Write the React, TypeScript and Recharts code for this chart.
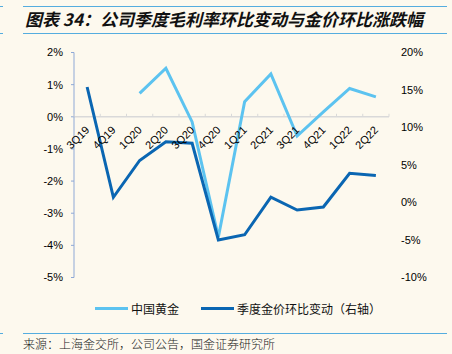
import React from 'react'
import {
  LineChart,
  Line,
  XAxis,
  YAxis,
  ReferenceLine,
} from 'recharts'

const quarters = [
  '3Q19', '4Q19', '1Q20', '2Q20', '3Q20', '4Q20',
  '1Q21', '2Q21', '3Q21', '4Q21', '1Q22', '2Q22',
]
// 中国黄金 quarterly gross margin change (left axis, %)
const marginChange = [null, null, 0.73, 1.51, -0.16, -3.74, 0.47, 1.33, -0.6, 0.15, 0.88, 0.62]
// gold price QoQ change (right axis, %)
const goldChange = [15.4, 0.7, 5.6, 8.1, 7.9, -5.0, -4.3, 0.7, -1.0, -0.6, 3.9, 3.6]

const leftTicks = [-5, -4, -3, -2, -1, 0, 1, 2]
const rightTicks = [-10, -5, 0, 5, 10, 15, 20]

const LIGHT = '#5cc3f0'
const DARK = '#0a66b2'
const BG = '#fdf9ee'
const RULE = '#55addf'

const W = 452
const H = 354
const TOP = 52.5
const BOTTOM = 76.5
const X_H = 20
const LEFT_W = 74
const RIGHT_W = 63
const PLOT_H = H - TOP - BOTTOM
const ZERO_Y = TOP + (PLOT_H * 2) / 7
const BAND = (W - LEFT_W - RIGHT_W) / quarters.length

const data = quarters.map((q, i) => ({
  q,
  margin: marginChange[i],
  gold: goldChange[i],
}))

const font = '"Liberation Sans", Arial, sans-serif'
const cjk = '"Noto Sans CJK SC", sans-serif'

function QuarterTick(props: any) {
  const {x, index} = props
  const last = index === quarters.length - 1
  return (
    <g>
      <line x1={x - BAND / 2} x2={x - BAND / 2} y1={ZERO_Y} y2={ZERO_Y - 3} stroke="#d9d9d9" />
      {last && (
        <line x1={x + BAND / 2} x2={x + BAND / 2} y1={ZERO_Y} y2={ZERO_Y - 3} stroke="#d9d9d9" />
      )}
      <text
        x={x + 3}
        y={ZERO_Y + 14}
        transform={`rotate(-45 ${x + 3} ${ZERO_Y + 14})`}
        textAnchor="end"
        fontSize={11}
        fontFamily={font}
        fill="#000"
      >
        {props.payload.value}
      </text>
    </g>
  )
}

function LegendItem({color, label}: {color: string; label: string}) {
  return (
    <span style={{display: 'inline-flex', alignItems: 'center', marginRight: 22}}>
      <span style={{display: 'inline-block', width: 33, height: 3, background: color, marginRight: 3}} />
      <span>{label}</span>
    </span>
  )
}

export default function App() {
  return (
    <div style={{position: 'absolute', left: 0, top: 0, width: W, height: H, background: BG, overflow: 'hidden'}}>
      <div style={{position: 'absolute', left: 0, top: 6, width: 3, height: 1, background: RULE}} />
      <div style={{position: 'absolute', left: 23, top: 6, width: 424, height: 1, background: RULE}} />
      <div
        style={{
          position: 'absolute',
          left: 25,
          top: 8,
          fontFamily: cjk,
          fontStyle: 'italic',
          fontWeight: 700,
          fontSize: 17,
          lineHeight: '22px',
          color: '#111',
          whiteSpace: 'nowrap',
        }}
      >
        图表 34：公司季度毛利率环比变动与金价环比涨跌幅
      </div>
      <div style={{position: 'absolute', left: 0, top: 33, width: 3, height: 1, background: RULE}} />
      <div style={{position: 'absolute', left: 23, top: 33, width: 424, height: 1, background: RULE}} />

      <div style={{position: 'absolute', left: 0, top: 0}}>
        <LineChart width={W} height={H} data={data} margin={{top: TOP, right: 0, bottom: BOTTOM - X_H, left: 0}}>
          <XAxis
            dataKey="q"
            xAxisId="cat"
            height={X_H}
            axisLine={false}
            tickLine={false}
            tick={<QuarterTick />}
            interval={0}
            padding={{left: BAND / 2, right: BAND / 2}}
          />
          <YAxis
            yAxisId="left"
            orientation="left"
            width={LEFT_W}
            domain={[-5, 2]}
            ticks={leftTicks}
            tickFormatter={(v: number) => `${v}%`}
            axisLine={{stroke: '#8fa9d6'}}
            tickLine={{stroke: '#8fa9d6'}}
            tickSize={3}
            tickMargin={8}
            tick={{fill: '#000', fontSize: 11, fontFamily: font}}
          />
          <YAxis
            yAxisId="right"
            orientation="right"
            width={RIGHT_W}
            domain={[-10, 20]}
            ticks={rightTicks}
            tickFormatter={(v: number) => `${v}%`}
            axisLine={false}
            tickLine={false}
            tickSize={0}
            tickMargin={12}
            tick={{fill: '#000', fontSize: 11, fontFamily: font}}
          />
          <ReferenceLine yAxisId="left" xAxisId="cat" y={0} stroke="#d9d9d9" strokeWidth={1.5} />
          <Line
            xAxisId="cat"
            yAxisId="left"
            dataKey="margin"
            name="中国黄金"
            stroke={LIGHT}
            strokeWidth={3}
            dot={false}
            connectNulls={false}
            isAnimationActive={false}
          />
          <Line
            xAxisId="cat"
            yAxisId="right"
            dataKey="gold"
            name="季度金价环比变动（右轴）"
            stroke={DARK}
            strokeWidth={3}
            dot={false}
            isAnimationActive={false}
          />
        </LineChart>
      </div>

      <div
        style={{
          position: 'absolute',
          left: 95,
          top: 297,
          fontFamily: cjk,
          fontSize: 12,
          lineHeight: '16px',
          color: '#111',
          whiteSpace: 'nowrap',
        }}
      >
        <LegendItem color={LIGHT} label="中国黄金" />
        <LegendItem color={DARK} label="季度金价环比变动（右轴）" />
      </div>

      <div style={{position: 'absolute', left: 0, top: 333, width: 3, height: 1, background: RULE}} />
      <div style={{position: 'absolute', left: 23, top: 333, width: 424, height: 1, background: RULE}} />
      <div
        style={{
          position: 'absolute',
          left: 23,
          top: 335,
          fontFamily: cjk,
          fontSize: 12,
          fontWeight: 300,
          lineHeight: '17px',
          color: '#222',
          whiteSpace: 'nowrap',
        }}
      >
        来源：上海金交所，公司公告，国金证券研究所
      </div>
    </div>
  )
}
